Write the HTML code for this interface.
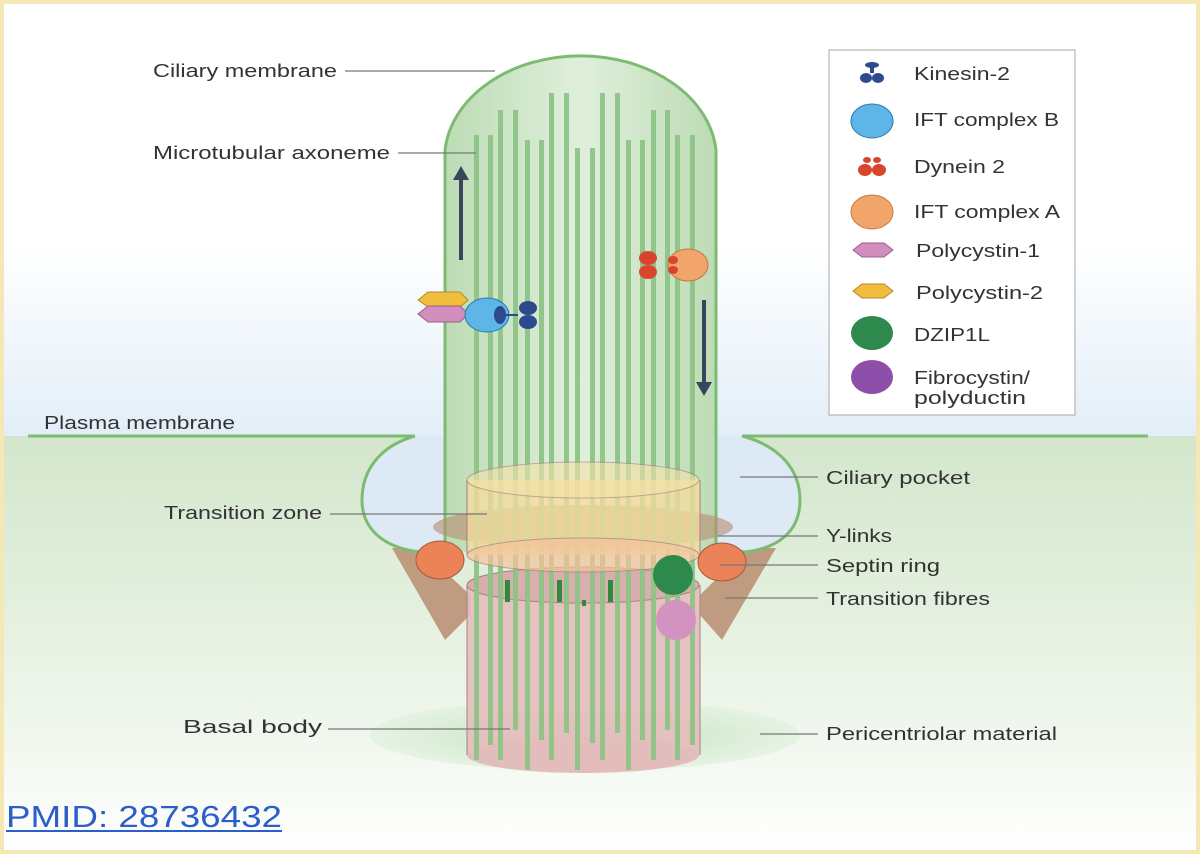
<!DOCTYPE html>
<html><head><style>
html,body{margin:0;padding:0;background:#fff;}
.wrap{width:1200px;height:854px;position:relative;overflow:hidden;}
</style></head><body><div class="wrap">
<svg width="1200" height="854" viewBox="0 0 1200 854" xmlns="http://www.w3.org/2000/svg" font-family="Liberation Sans, sans-serif">
<defs>
<linearGradient id="sky" x1="0" y1="0" x2="0" y2="1">
<stop offset="0" stop-color="#fff"/><stop offset="0.25" stop-color="#fff"/><stop offset="1" stop-color="#e2eef8"/></linearGradient>
<linearGradient id="ground" x1="0" y1="0" x2="0" y2="1">
<stop offset="0" stop-color="#d3e6cb"/><stop offset="0.8" stop-color="#f4f9f2"/><stop offset="1" stop-color="#fff"/></linearGradient>
<linearGradient id="cil" x1="0" y1="0" x2="1" y2="0">
<stop offset="0" stop-color="#bcdcb4"/><stop offset="0.5" stop-color="#e0efdc"/><stop offset="1" stop-color="#bcdcb4"/></linearGradient>
<radialGradient id="pcm" cx="0.5" cy="0.5" r="0.5"><stop offset="0" stop-color="#c4e2c0"/><stop offset="1" stop-color="#e6f3e3"/></radialGradient>
</defs>
<rect width="1200" height="854" fill="#f6e7b6"/>
<rect x="4" y="4" width="1192" height="846" fill="#fff"/>
<rect x="4" y="180" width="1192" height="256" fill="url(#sky)"/>
<rect x="4" y="436" width="1192" height="414" fill="url(#ground)"/>
<ellipse cx="585" cy="735" rx="215" ry="36" fill="url(#pcm)"/>
<!-- transition fibres -->
<path d="M392 548 L420 548 L470 595 L470 615 L445 640 Z" fill="#b88c70" opacity="0.85"/>
<path d="M776 548 L748 548 L700 595 L700 615 L722 640 Z" fill="#b88c70" opacity="0.85"/>
<!-- basal body -->
<rect x="467" y="585" width="233" height="170" fill="#e3bcbc" opacity="0.9"/>
<ellipse cx="583" cy="755" rx="116" ry="18" fill="#e3bcbc"/>
<ellipse cx="583" cy="585" rx="116" ry="18" fill="#d9aeae" stroke="#a98080" stroke-width="1"/>
<line x1="467" y1="585" x2="467" y2="755" stroke="#a98080"/><line x1="700" y1="585" x2="700" y2="755" stroke="#a98080"/>
<!-- pocket -->
<path d="M415 436 C380 446 362 470 362 500 C362 530 385 548 420 552 L445 552 L445 436 Z" fill="#ddeaf5"/>
<path d="M742 436 C780 446 800 470 800 500 C800 530 780 548 745 552 L716 552 L716 436 Z" fill="#ddeaf5"/>
<path d="M445 552 L445 150 A136 103 0 0 1 716 150 L716 552 Z" fill="url(#cil)"/>
<path d="M445 552 L445 150 A136 103 0 0 1 716 150 L716 552" fill="none" stroke="#7dbb72" stroke-width="3"/>
<path d="M415 436 C380 446 362 470 362 500 C362 530 385 548 420 552 L445 548" fill="none" stroke="#7dbb72" stroke-width="3"/>
<path d="M742 436 C780 446 800 470 800 500 C800 530 780 548 745 552 L716 548" fill="none" stroke="#7dbb72" stroke-width="3"/>
<line x1="28" y1="436" x2="415" y2="436" stroke="#7dbb72" stroke-width="3"/>
<line x1="742" y1="436" x2="1148" y2="436" stroke="#7dbb72" stroke-width="3"/>
<!-- Y-links -->
<ellipse cx="583" cy="527" rx="150" ry="22" fill="#b88c70" opacity="0.6"/>
<!-- microtubules -->
<g fill="#8fc487" opacity="0.95">
<rect x="474" y="135" width="5" height="625"/><rect x="488" y="135" width="5" height="610"/>
<rect x="498" y="110" width="5" height="650"/><rect x="513" y="110" width="5" height="620"/>
<rect x="525" y="140" width="5" height="630"/><rect x="539" y="140" width="5" height="600"/>
<rect x="549" y="93" width="5" height="667"/><rect x="564" y="93" width="5" height="640"/>
<rect x="575" y="148" width="5" height="622"/><rect x="590" y="148" width="5" height="595"/>
<rect x="600" y="93" width="5" height="667"/><rect x="615" y="93" width="5" height="640"/>
<rect x="626" y="140" width="5" height="630"/><rect x="640" y="140" width="5" height="600"/>
<rect x="651" y="110" width="5" height="650"/><rect x="665" y="110" width="5" height="620"/>
<rect x="675" y="135" width="5" height="625"/><rect x="690" y="135" width="5" height="610"/>
</g>
<g fill="#2f8a3e"><rect x="505" y="580" width="5" height="22"/><rect x="557" y="580" width="5" height="22"/><rect x="608" y="580" width="5" height="22"/><rect x="582" y="600" width="4" height="6"/></g>
<!-- transition zone -->
<rect x="467" y="480" width="233" height="75" fill="#f6dc9e" opacity="0.75"/>
<ellipse cx="583" cy="555" rx="116" ry="17" fill="#f5c39c" opacity="0.7" stroke="#a98080"/>
<ellipse cx="583" cy="480" rx="116" ry="18" fill="#f5e2a8" opacity="0.6" stroke="#a98080"/>
<line x1="467" y1="480" x2="467" y2="555" stroke="#a98080"/><line x1="700" y1="480" x2="700" y2="555" stroke="#a98080"/>
<!-- septin -->
<ellipse cx="440" cy="560" rx="24" ry="19" fill="#ec8257" stroke="#a85a3b"/>
<ellipse cx="722" cy="562" rx="24" ry="19" fill="#ec8257" stroke="#a85a3b"/>
<circle cx="673" cy="575" r="20" fill="#2e8a4c"/>
<circle cx="676" cy="620" r="20" fill="#d393c0"/>
<!-- arrows -->
<line x1="461" y1="260" x2="461" y2="178" stroke="#37465a" stroke-width="4"/><path d="M453 180 L461 166 L469 180 Z" fill="#37465a"/>
<line x1="704" y1="300" x2="704" y2="384" stroke="#37465a" stroke-width="4"/><path d="M696 382 L704 396 L712 382 Z" fill="#37465a"/>
<!-- IFT-B train -->
<polygon points="418,300 428,292 460,292 468,300 460,307 428,307" fill="#f2bd3c" stroke="#b38a2a"/>
<polygon points="418,314 428,306 460,306 468,314 460,322 428,322" fill="#d38ec0" stroke="#9c5d8a"/>
<ellipse cx="487" cy="315" rx="22" ry="17" fill="#5db5e8" stroke="#2c77a8"/>
<ellipse cx="500" cy="315" rx="6" ry="9" fill="#2d4a8e"/>
<line x1="505" y1="315" x2="518" y2="315" stroke="#2d4a8e" stroke-width="2"/>
<ellipse cx="528" cy="308" rx="9" ry="7" fill="#2d4a8e"/><ellipse cx="528" cy="322" rx="9" ry="7" fill="#2d4a8e"/>
<!-- dynein + IFT-A -->
<ellipse cx="688" cy="265" rx="20" ry="16" fill="#f2a56a" stroke="#c27a45"/>
<ellipse cx="648" cy="258" rx="9" ry="7" fill="#d8442c"/><ellipse cx="648" cy="272" rx="9" ry="7" fill="#d8442c"/>
<ellipse cx="673" cy="260" rx="5" ry="4" fill="#d8442c"/><ellipse cx="673" cy="270" rx="5" ry="4" fill="#d8442c"/>
<!-- legend -->
<rect x="829" y="50" width="246" height="365" fill="#fff" stroke="#aaa"/>
<g fill="#2d4a8e"><ellipse cx="872" cy="65" rx="7" ry="3"/><rect x="870" y="65" width="4" height="8"/><ellipse cx="866" cy="78" rx="6" ry="5"/><ellipse cx="878" cy="78" rx="6" ry="5"/></g>
<ellipse cx="872" cy="121" rx="21" ry="17" fill="#5db5e8" stroke="#2c77a8"/>
<g fill="#d8442c"><ellipse cx="867" cy="160" rx="4" ry="3"/><ellipse cx="877" cy="160" rx="4" ry="3"/><ellipse cx="865" cy="170" rx="7" ry="6"/><ellipse cx="879" cy="170" rx="7" ry="6"/></g>
<ellipse cx="872" cy="212" rx="21" ry="17" fill="#f2a56a" stroke="#c27a45"/>
<polygon points="853,250 862,243 884,243 893,250 884,257 862,257" fill="#d38ec0" stroke="#9c5d8a"/>
<polygon points="853,291 862,284 884,284 893,291 884,298 862,298" fill="#f2bd3c" stroke="#b38a2a"/>
<ellipse cx="872" cy="333" rx="21" ry="17" fill="#2e8a4c"/>
<ellipse cx="872" cy="377" rx="21" ry="17" fill="#8e4fab"/>
<g font-size="18" fill="#333" lengthAdjust="spacingAndGlyphs">
<text x="914" y="80" textLength="96" lengthAdjust="spacingAndGlyphs">Kinesin-2</text>
<text x="914" y="126" textLength="145" lengthAdjust="spacingAndGlyphs">IFT complex B</text>
<text x="914" y="173" textLength="91" lengthAdjust="spacingAndGlyphs">Dynein 2</text>
<text x="914" y="218" textLength="146" lengthAdjust="spacingAndGlyphs">IFT complex A</text>
<text x="916" y="257" textLength="124" lengthAdjust="spacingAndGlyphs">Polycystin-1</text>
<text x="916" y="299" textLength="127" lengthAdjust="spacingAndGlyphs">Polycystin-2</text>
<text x="914" y="341" textLength="76" lengthAdjust="spacingAndGlyphs">DZIP1L</text>
<text x="914" y="384" textLength="116" lengthAdjust="spacingAndGlyphs">Fibrocystin/</text>
<text x="914" y="404" textLength="112" lengthAdjust="spacingAndGlyphs">polyductin</text>
<text x="153" y="77" textLength="184" lengthAdjust="spacingAndGlyphs">Ciliary membrane</text>
<text x="153" y="159" textLength="237" lengthAdjust="spacingAndGlyphs">Microtubular axoneme</text>
<text x="44" y="429" textLength="191" lengthAdjust="spacingAndGlyphs">Plasma membrane</text>
<text x="164" y="519" textLength="158" lengthAdjust="spacingAndGlyphs">Transition zone</text>
<text x="183" y="733" textLength="139" lengthAdjust="spacingAndGlyphs">Basal body</text>
<text x="826" y="484" textLength="144" lengthAdjust="spacingAndGlyphs">Ciliary pocket</text>
<text x="826" y="542" textLength="66" lengthAdjust="spacingAndGlyphs">Y-links</text>
<text x="826" y="572" textLength="114" lengthAdjust="spacingAndGlyphs">Septin ring</text>
<text x="826" y="605" textLength="164" lengthAdjust="spacingAndGlyphs">Transition fibres</text>
<text x="826" y="740" textLength="231" lengthAdjust="spacingAndGlyphs">Pericentriolar material</text>
</g>
<g stroke="#777" stroke-width="1.2">
<line x1="345" y1="71" x2="495" y2="71"/>
<line x1="398" y1="153" x2="476" y2="153"/>
<line x1="330" y1="514" x2="487" y2="514"/>
<line x1="328" y1="729" x2="510" y2="729"/>
<line x1="740" y1="477" x2="818" y2="477"/>
<line x1="718" y1="536" x2="818" y2="536"/>
<line x1="720" y1="565" x2="818" y2="565"/>
<line x1="725" y1="598" x2="818" y2="598"/>
<line x1="760" y1="734" x2="818" y2="734"/>
</g>
<text x="6" y="827" font-size="31" fill="#2a5fc9" textLength="276" lengthAdjust="spacingAndGlyphs">PMID: 28736432</text>
<line x1="6" y1="831" x2="282" y2="831" stroke="#2a5fc9" stroke-width="2"/>
</svg>
</div></body></html>
